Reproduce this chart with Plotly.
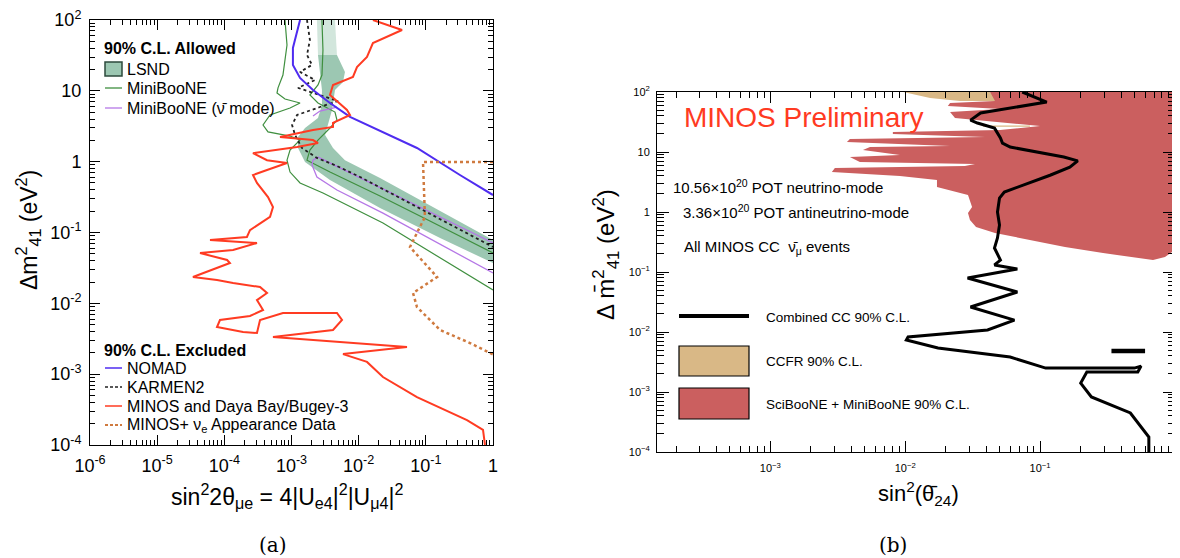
import plotly.graph_objects as go

# page body has an 8px margin: lay out in reference pixel coordinates, shifted by that offset
OFF = 8
W, H = 1180 - OFF, 558 - OFF
def px(x): return (x - OFF) / W
def py(y): return 1 - (y - OFF) / H

# ---------------- Left panel (a) data ----------------
lsnd_x = [4.75e-3, 6.25e-3, 5.85e-3, 4.44e-3, 4.01e-3, 3.49e-3, 3.16e-3, 4.15e-3, 6.25e-3, 0.0208, 0.115, 1.0,
          1.0, 0.163, 0.0208, 3.74e-3, 1.59e-3, 1.25e-3, 1.25e-3, 1.59e-3, 2.48e-3, 2.84e-3, 2.84e-3, 2.65e-3, 2.48e-3]
lsnd_y = [32.1, 18.5, 13.3, 10.3, 5.36, 3.29, 2.38, 1.56, 1.05, 0.587, 0.244, 0.0783,
          0.0371, 0.0836, 0.222, 0.551, 0.989, 1.56, 2.23, 2.99, 4.13, 6.31, 10.3, 18.5, 32.1]
lsnd_top_x = [2.39e-3, 4.44e-3, 4.75e-3, 2.48e-3]
lsnd_top_y = [100, 100, 32.1, 32.1]

mb_left_x = [8.0e-4, 8.57e-4, 7.46e-4, 6.30e-4, 6.08e-4, 8.0e-4, 1.34e-3, 9.51e-4, 4.79e-4, 3.77e-4, 4.47e-4,
             9.51e-4, 1.34e-3, 9.51e-4, 8.57e-4, 9.51e-4, 1.34e-3, 2.94e-3, 0.0230, 1.0]
mb_left_y = [100, 44.4, 16.7, 11.0, 9.31, 7.67, 6.74, 5.72, 4.56, 3.29, 2.63, 2.30, 2.02, 1.46, 1.05, 0.714,
             0.500, 0.361, 0.136, 0.0154]
mb_right_x = [2.84e-3, 2.94e-3, 2.84e-3, 2.48e-3, 1.88e-3, 2.48e-3, 4.44e-3, 4.75e-3, 3.74e-3, 2.48e-3, 1.88e-3,
              1.70e-3, 3.74e-3, 0.0208, 0.115, 1.0]
mb_right_y = [100, 37.7, 16.7, 12.1, 8.73, 6.74, 5.02, 3.87, 2.99, 2.02, 1.46, 1.05, 0.714, 0.328, 0.145, 0.0513]

mbbar_x = [1.0, 0.0412, 3.74e-3, 2.48e-3, 2.09e-3, 2.02e-3, 2.39e-3, 4.75e-3, 0.0230, 1.0]
mbbar_y = [0.0711, 0.317, 0.957, 1.16, 1.05, 0.898, 0.607, 0.398, 0.188, 0.0268]
mbbar_arc_x = [2.09e-3, 2.65e-3, 4.75e-3]
mbbar_arc_y = [4.42, 5.19, 5.91]

karmen_x = [1.70e-3, 1.88e-3, 1.70e-3, 2.02e-3, 1.34e-3, 2.24e-3, 1.25e-3, 2.65e-3, 4.92e-3, 2.65e-3, 1.21e-3,
            1.02e-3, 1.13e-3, 1.43e-3, 2.39e-3, 4.75e-3, 0.0105, 0.0412, 0.229, 1.0]
karmen_y = [100, 52.2, 32.1, 23.2, 18.5, 14.2, 11.0, 8.73, 7.18, 5.91, 4.56, 3.29, 2.38, 1.56, 1.13, 0.869,
            0.607, 0.307, 0.132, 0.0624]

nomad_x = [1.34e-3, 1.05e-3, 1.05e-3, 1.34e-3, 2.09e-3, 3.74e-3, 7.43e-3, 0.023, 0.0738, 0.322, 1.0]
nomad_y = [100, 40.3, 23.2, 15.2, 10.3, 6.74, 4.28, 2.63, 1.56, 0.648, 0.338]

minos_x = [0.0163, 0.0442, 0.0163, 0.0133, 9.44e-3, 8.22e-3, 4.15e-3, 3.74e-3, 6.70e-3, 7.43e-3, 4.15e-3,
           4.15e-3, 2.09e-3, 6.75e-4, 2.09e-3, 2.48e-3, 1.21e-3, 2.67e-4, 4.32e-4, 8.57e-4, 4.32e-4, 2.67e-4,
           3.06e-4, 4.47e-4, 5.30e-4, 4.79e-4, 2.41e-4, 2.17e-4, 6.12e-5, 3.06e-4, 1.35e-4, 4.35e-5, 1.10e-4,
           1.21e-4, 3.41e-5, 7.78e-5, 1.35e-4, 3.40e-4, 4.32e-4, 3.06e-4, 3.77e-4, 2.41e-4, 8.61e-5, 7.78e-5,
           1.90e-4, 3.06e-4, 3.40e-4, 7.46e-4, 4.75e-3, 5.65e-3, 4.15e-3, 5.30e-4, 0.0524, 5.85e-3, 0.0133,
           0.0230, 0.0738, 0.410, 0.710, 0.760]
minos_y = [100, 72.3, 47.3, 30.1, 21.7, 15.7, 12.1, 8.73, 5.36, 4.56, 3.52,
           3.09, 2.80, 2.23, 2.02, 1.83, 1.61, 1.32, 1.05, 0.957, 0.762, 0.648,
           0.500, 0.317, 0.229, 0.166, 0.108, 0.0863, 0.0783, 0.0711, 0.0566, 0.0513, 0.0409,
           0.0371, 0.0235, 0.0213, 0.0194, 0.0170, 0.0140, 0.0111, 8.05e-3, 6.62e-3, 5.81e-3, 4.63e-3,
           3.94e-3, 3.81e-3, 5.81e-3, 7.30e-3, 7.30e-3, 5.81e-3, 4.20e-3, 3.34e-3, 2.41e-3, 1.92e-3, 1.49e-3,
           9.12e-4, 4.75e-4, 2.25e-4, 1.63e-4, 1.0e-4]

minosplus_x = [1.0, 0.0908, 0.097, 0.0581, 0.147, 0.0644, 0.0738, 0.163, 0.454, 1.0]
minosplus_y = [0.989, 0.989, 0.166, 0.0624, 0.0235, 0.0140, 8.87e-3, 4.20e-3, 2.75e-3, 1.9e-3]

left_x_tickvals = [1e-6, 1e-5, 1e-4, 1e-3, 1e-2, 1e-1, 1]
left_x_ticktext = ["10<sup>-6</sup>", "10<sup>-5</sup>", "10<sup>-4</sup>", "10<sup>-3</sup>",
                   "10<sup>-2</sup>", "10<sup>-1</sup>", "1"]
left_y_tickvals = [1e-4, 1e-3, 1e-2, 1e-1, 1, 10, 100]
left_y_ticktext = ["10<sup>-4</sup>", "10<sup>-3</sup>", "10<sup>-2</sup>", "10<sup>-1</sup>", "1", "10",
                   "10<sup>2</sup>"]

# ---------------- Right panel (b) data ----------------
ccfr_x = [0.00966, 0.0426, 0.0505, 0.0598, 0.0255, 0.0153, 0.00966]
ccfr_y = [100, 100, 82.5, 70.8, 70.8, 79.4, 100]
ccfr2_x = [0.0378, 0.0841, 0.0841, 0.0378]
ccfr2_y = [27.6, 27.6, 26.4, 26.4]

sb_x = [0.0426, 1.0, 1.0, 0.843, 0.687, 0.532, 0.293, 0.153, 0.0841, 0.0463, 0.0335, 0.0302, 0.0292, 0.0313,
        0.0292, 0.0215, 0.0172, 0.0172, 0.00914, 0.00286, 0.00301, 0.0277, 0.0329, 0.00461, 0.00389, 0.00914,
        0.00486, 0.00548, 0.0215, 0.0037, 0.00389, 0.0391, 0.0081, 0.0081, 0.0505, 0.1, 0.0505, 0.0234, 0.0215,
        0.0505, 0.0207, 0.0215, 0.0463, 0.0426]
sb_y = [100, 100, 0.233, 0.178, 0.158, 0.171, 0.207, 0.261, 0.341, 0.447, 0.562, 0.736, 0.962, 1.21, 1.92,
        2.33, 2.61, 3.41, 3.98, 4.64, 5.41, 5.84, 6.31, 6.81, 8.25, 8.9, 10.8, 12.1, 12.6, 14.7, 16.5, 17.8, 20,
        21.5, 23.3, 27.1, 31.6, 36.9, 46.4, 52.1, 58.5, 65.6, 70.8, 100]

cc_x = [0.0738, 0.095, 0.112, 0.0362, 0.0305, 0.0343, 0.0459, 0.0508, 0.0526, 0.060, 0.095, 0.150, 0.19,
        0.166, 0.1185, 0.0763, 0.0543, 0.050, 0.0483, 0.050, 0.0483, 0.0459, 0.0508, 0.0459, 0.0678, 0.029,
        0.0678, 0.0305, 0.0645, 0.0408, 0.0105, 0.0102, 0.0175, 0.060, 0.107, 0.110, 0.50, 0.56, 0.53, 0.222,
        0.20, 0.24, 0.467, 0.56, 0.64, 0.64]
cc_y = [100, 79, 68, 44.7, 34, 30.4, 25, 17.1, 14.1, 12.1, 10, 8.25, 7.1, 5.6, 4.1, 2.8, 2.15, 1.71, 1.0,
        0.607, 0.369, 0.251, 0.158, 0.131, 0.112, 0.0794, 0.0464, 0.0261, 0.0158, 0.0108, 0.00826, 0.00736,
        0.0054, 0.00383, 0.00261, 0.0025, 0.0025, 0.0027, 0.00215, 0.00215, 0.00141, 0.000826, 0.000447,
        0.000261, 0.000178, 0.0001]
cc_island_x = [0.338, 0.60]
cc_island_y = [0.00482, 0.00482]

right_x_tickvals = [1e-3, 1e-2, 1e-1, 1]
right_x_ticktext = ["10<sup>\u22123</sup>", "10<sup>\u22122</sup>", "10<sup>\u22121</sup>", "1"]
right_y_tickvals = [1e-4, 1e-3, 1e-2, 1e-1, 1, 10, 100]
right_y_ticktext = ["10<sup>\u22124</sup>", "10<sup>\u22123</sup>", "10<sup>\u22122</sup>", "10<sup>\u22121</sup>",
                    "1", "10", "10<sup>2</sup>"]

# ---------------- colours ----------------
C_LSND = "#9cc7b2"
C_LSND_TOP = "#d2e6dc"
C_MB = "#3f8f3f"
C_MBBAR = "#b577e6"
C_NOMAD = "#4f2cf0"
C_MINOS = "#ff3b22"
C_MINOSP = "#cf7a3f"
C_CCFR = "#d9b886"
C_SB = "#cb5f5f"

FONT = "Liberation Sans"

fig = go.Figure()

def line(x, y, color, width, dash=None, ax=("x", "y")):
    fig.add_trace(go.Scatter(x=x, y=y, mode="lines", xaxis=ax[0], yaxis=ax[1],
                             line=dict(color=color, width=width, dash=dash),
                             showlegend=False, hoverinfo="skip"))

def area(x, y, color, ax=("x", "y")):
    fig.add_trace(go.Scatter(x=x, y=y, mode="lines", fill="toself", fillcolor=color,
                             xaxis=ax[0], yaxis=ax[1], line=dict(width=0, color=color),
                             showlegend=False, hoverinfo="skip"))

# left panel
area(lsnd_top_x, lsnd_top_y, C_LSND_TOP)
area(lsnd_x, lsnd_y, C_LSND)
line(mb_left_x, mb_left_y, C_MB, 1.2)
line(mb_right_x, mb_right_y, C_MB, 1.2)
line(mbbar_x, mbbar_y, C_MBBAR, 1.3)
line(mbbar_arc_x, mbbar_arc_y, C_MBBAR, 1.3)
line(karmen_x, karmen_y, "#222222", 1.8, dash="3px,3px")
line(nomad_x, nomad_y, C_NOMAD, 2)
line(minos_x, minos_y, C_MINOS, 2)
line(minosplus_x, minosplus_y, C_MINOSP, 2.5, dash="3px,3px")

# right panel
R = ("x2", "y2")
area(ccfr_x, ccfr_y, C_CCFR, R)
area(sb_x, sb_y, C_SB, R)
area(ccfr2_x, ccfr2_y, C_CCFR, R)
line(cc_x, cc_y, "black", 3, ax=R)
line(cc_island_x, cc_island_y, "black", 4.5, ax=R)

axis_common = dict(type="log", showline=True, linecolor="black", linewidth=1, mirror="ticks",
                   ticks="inside", tickcolor="black", showgrid=False, zeroline=False, tickmode="array",
                   automargin=False, ticklabeloverflow="allow")

fig.update_layout(
    template="none",
    width=W, height=H, autosize=False,
    margin=dict(l=0, r=0, t=0, b=0, pad=0),
    paper_bgcolor="white", plot_bgcolor="white",
    font=dict(family=FONT, color="black"),
    showlegend=False,
    xaxis=dict(axis_common, domain=[px(90), px(493)], range=[-6, 0], anchor="y",
               tickvals=left_x_tickvals, ticktext=left_x_ticktext, ticklen=10,
               tickfont=dict(size=18), ticklabelstandoff=4,
               minor=dict(ticks="inside", ticklen=5, dtick="D1", tickcolor="black", showgrid=False)),
    yaxis=dict(axis_common, domain=[py(445), py(20)], range=[-4, 2], anchor="x",
               tickvals=left_y_tickvals, ticktext=left_y_ticktext, ticklen=10,
               tickfont=dict(size=18), ticklabelstandoff=4,
               minor=dict(ticks="inside", ticklen=5, dtick="D1", tickcolor="black", showgrid=False)),
    xaxis2=dict(axis_common, domain=[px(657), px(1175)], range=[-3.84, 0], anchor="y2",
                tickvals=right_x_tickvals, ticktext=right_x_ticktext, ticklen=11,
                tickfont=dict(size=11), ticklabelstandoff=6,
                minor=dict(ticks="inside", ticklen=6, dtick="D1", tickcolor="black", showgrid=False)),
    yaxis2=dict(axis_common, domain=[py(452), py(92)], range=[-4, 2], anchor="x2",
                tickvals=right_y_tickvals, ticktext=right_y_ticktext, ticklen=12,
                tickfont=dict(size=11), ticklabelstandoff=4,
                minor=dict(ticks="inside", ticklen=7, dtick="D1", tickcolor="black", showgrid=False)),
)

anns = []
def ann(text, x, y, size, xanchor="left", color="black", family=FONT, angle=0):
    anns.append(dict(text=text, x=px(x), y=py(y), xref="paper", yref="paper", showarrow=False,
                     xanchor=xanchor, yanchor="middle", textangle=angle,
                     font=dict(size=size, color=color, family=family)))

shapes = []
def seg(x0, y0, x1, y1, color, width, dash=None):
    shapes.append(dict(type="line", xref="paper", yref="paper", x0=px(x0), y0=py(y0), x1=px(x1), y1=py(y1),
                       line=dict(color=color, width=width, dash=dash)))
def box(x0, y0, x1, y1, fill, lc="black", lw=1.2):
    shapes.append(dict(type="rect", xref="paper", yref="paper", x0=px(x0), y0=py(y1), x1=px(x1), y1=py(y0),
                       fillcolor=fill, line=dict(color=lc, width=lw)))

# left legend
ann("<b>90% C.L. Allowed</b>", 102, 48, 16)
box(105, 62, 122, 76, C_LSND, "#2d4a3c", 1.5)
ann("LSND", 125, 69, 16)
seg(105, 88, 122, 88, C_MB, 1.3)
ann("MiniBooNE", 125, 88, 16)
seg(105, 108, 122, 108, C_MBBAR, 1.3)
ann("MiniBooNE (\u03bd\u0304 mode)", 125, 108, 16)

ann("<b>90% C.L. Excluded</b>", 102, 350, 16)
seg(105, 368, 122, 368, C_NOMAD, 1.5)
ann("NOMAD", 125, 368, 16)
seg(105, 387, 122, 387, "#222222", 1.5, "3px,2px")
ann("KARMEN2", 125, 387, 16)
seg(105, 406, 122, 406, C_MINOS, 1.5)
ann("MINOS and Daya Bay/Bugey-3", 125, 406, 16)
seg(105, 425, 122, 425, C_MINOSP, 2, "3px,2px")
ann("MINOS+ \u03bd<sub>e</sub> Appearance Data", 125, 425, 16)

# left axis titles
ann("sin<sup>2</sup>2\u03b8<sub>\u03bce</sub> = 4|U<sub>e4</sub>|<sup>2</sup>|U<sub>\u03bc4</sub>|<sup>2</sup>",
    287, 496, 23, xanchor="center")
ann("\u0394m<sup>2</sup><sub>41</sub> (eV<sup>2</sup>)", 28, 230, 23, xanchor="center", angle=-90)
ann("(a)", 273, 545, 20, xanchor="center", family="DejaVu Serif")

# right panel texts
ann("MINOS Preliminary", 682, 118, 28, color="#ff3a22")
ann("10.56\u00d710<sup>20</sup> POT neutrino-mode", 671, 186, 15)
ann("3.36\u00d710<sup>20</sup> POT antineutrino-mode", 681, 212, 15)
ann("All MINOS CC  \u03bd\u0304<sub>\u03bc</sub> events", 682, 248, 15)

seg(679, 316, 749, 316, "black", 4)
ann("Combined CC 90% C.L.", 764, 317, 13.5)
box(679, 346, 749, 376, C_CCFR, "black", 1.2)
ann("CCFR 90% C.L.", 764, 361, 13.5)
box(679, 388, 749, 419, C_SB, "black", 1.2)
ann("SciBooNE + MiniBooNE 90% C.L.", 764, 404, 13.5)

ann("sin<sup>2</sup>(\u03b8\u0304<sub>24</sub>)", 918, 493, 22, xanchor="center")
ann("\u0394 m\u0304<sup>2</sup><sub>41</sub> (eV<sup>2</sup>)", 606, 255, 24, xanchor="center", angle=-90)
ann("(b)", 893, 545, 20, xanchor="center", family="DejaVu Serif")

fig.update_layout(annotations=anns, shapes=shapes)
fig.write_html("out.html")
